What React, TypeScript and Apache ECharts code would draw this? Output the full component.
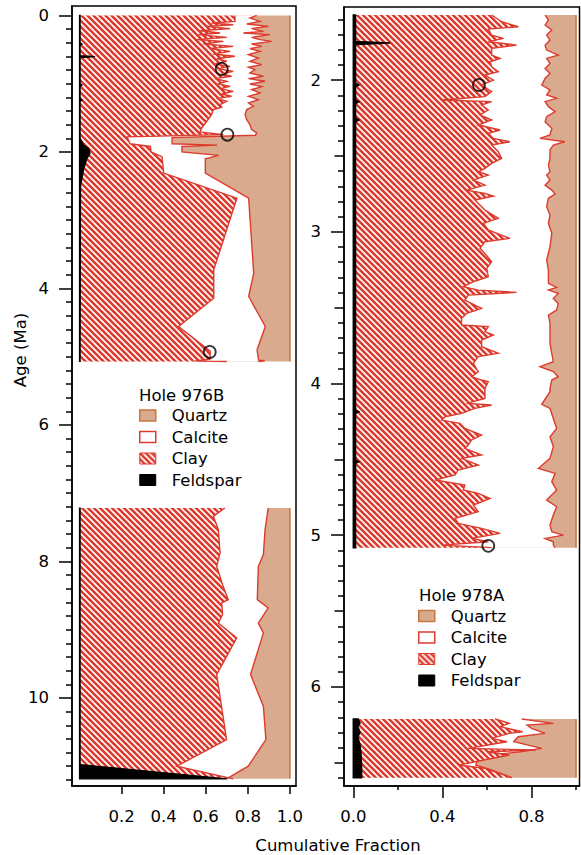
import React, { useEffect, useRef } from 'react';
import * as echarts from 'echarts';

const RED = '#dc3b2e';
const TAN = '#d9aa8d';
const BROWN = '#c6783c';
const FONT = 'DejaVu Sans';
const FS = 16.5;

// ---- Hole 976B : points are [age (Ma), cumulative fraction] ----
const feld976Upper = [
  [0, 0.003], [0.40, 0.003], [0.42, 0.012], [0.44, 0.003], [0.59, 0.003], [0.605, 0.074], [0.62, 0.003],
  [1.0, 0.003], [1.02, 0.012], [1.04, 0.003], [1.22, 0.003], [1.24, 0.012], [1.26, 0.003], [1.80, 0.003],
  [1.90, 0.02], [1.95, 0.045], [2.02, 0.05], [2.10, 0.035], [2.25, 0.02], [2.5, 0.005], [5.07, 0.003],
];
const clay976Upper = [
  [0, 0.739], [0.087, 0.739], [0.111, 0.628], [0.136, 0.731], [0.160, 0.605], [0.194, 0.716], [0.224, 0.573],
  [0.258, 0.668], [0.282, 0.565], [0.321, 0.700], [0.355, 0.557], [0.380, 0.684], [0.419, 0.589], [0.453, 0.731],
  [0.487, 0.620], [0.526, 0.716], [0.565, 0.636], [0.599, 0.739], [0.634, 0.652], [0.672, 0.700], [0.711, 0.644],
  [0.746, 0.716], [0.780, 0.660], [0.819, 0.731], [0.858, 0.676], [0.892, 0.723], [0.926, 0.644], [0.965, 0.700],
  [1.004, 0.660], [1.039, 0.716], [1.073, 0.668], [1.112, 0.731], [1.151, 0.676], [1.185, 0.723], [1.219, 0.652],
  [1.258, 0.700], [1.307, 0.668], [1.346, 0.676], [1.380, 0.636], [1.453, 0.628], [1.551, 0.605], [1.649, 0.581],
  [1.707, 0.573], [1.746, 0.684], [1.78, 0.226], [1.88, 0.24], [1.92, 0.337], [2.0, 0.34], [2.07, 0.392],
  [2.31, 0.40], [2.678, 0.748], [3.728, 0.638], [4.143, 0.638], [4.558, 0.471], [4.923, 0.622], [5.04, 0.62],
  [5.06, 0.55], [5.07, 0.70],
];
const calc976Upper = [
  [0, 0.842], [0.038, 0.810], [0.087, 0.858], [0.126, 0.795], [0.160, 0.898], [0.194, 0.818], [0.233, 0.874],
  [0.258, 0.779], [0.282, 0.905], [0.321, 0.818], [0.355, 0.858], [0.380, 0.913], [0.419, 0.818], [0.453, 0.866],
  [0.487, 0.810], [0.526, 0.858], [0.575, 0.803], [0.624, 0.850], [0.672, 0.810], [0.721, 0.866], [0.760, 0.803],
  [0.795, 0.834], [0.843, 0.810], [0.892, 0.874], [0.926, 0.803], [0.965, 0.882], [1.004, 0.810], [1.043, 0.866],
  [1.087, 0.818], [1.136, 0.858], [1.185, 0.803], [1.234, 0.850], [1.283, 0.803], [1.331, 0.826], [1.380, 0.795],
  [1.453, 0.787], [1.527, 0.795], [1.600, 0.810], [1.673, 0.818], [1.722, 0.842], [1.756, 0.836], [1.79, 0.44],
  [1.88, 0.44], [1.90, 0.654], [1.92, 0.487], [2.0, 0.487], [2.05, 0.661], [2.10, 0.598], [2.31, 0.598],
  [2.678, 0.804], [3.777, 0.828], [4.118, 0.804], [4.558, 0.883], [4.899, 0.844], [5.05, 0.851], [5.06, 0.88],
  [5.07, 0.85],
];
const qtz976Upper = [[0, 1], [5.07, 1]];

const feld976Lower = [[7.217, 0.003], [10.975, 0.003], [11.185, 0.70]];
const clay976Lower = [
  [7.217, 0.691], [7.339, 0.636], [7.534, 0.660], [7.876, 0.668], [8.071, 0.652], [8.34, 0.68], [8.56, 0.707],
  [8.608, 0.676], [8.779, 0.68], [8.901, 0.660], [9.12, 0.747], [9.657, 0.652], [10.61, 0.699], [11.0, 0.462],
  [11.185, 0.731],
];
const calc976Lower = [
  [7.217, 0.897], [7.534, 0.882], [7.9, 0.874], [8.071, 0.85], [8.56, 0.845], [8.682, 0.897], [8.901, 0.85],
  [9.047, 0.874], [9.657, 0.813], [10.121, 0.874], [10.61, 0.886], [11.0, 0.802], [11.185, 0.699],
];
const qtz976Lower = [[7.217, 1], [11.185, 1]];

// ---- Hole 978A ----
const feld978Upper = [
  [1.571, 0.01], [1.745, 0.01], [1.755, 0.165], [1.765, 0.01], [2.02, 0.01], [2.032, 0.025], [2.045, 0.01],
  [2.13, 0.01], [2.142, 0.025], [2.155, 0.01], [2.25, 0.01], [2.263, 0.025], [2.275, 0.01], [4.175, 0.01],
  [4.186, 0.025], [4.197, 0.01], [4.505, 0.01], [4.515, 0.025], [4.525, 0.01], [5.082, 0.01],
];
const clay978Upper = [
  [1.571, 0.621], [1.615, 0.666], [1.648, 0.741], [1.663, 0.606], [1.703, 0.621], [1.725, 0.674], [1.747, 0.606],
  [1.769, 0.733], [1.791, 0.621], [1.835, 0.621], [1.857, 0.659], [1.879, 0.614], [1.912, 0.621], [1.945, 0.651],
  [1.967, 0.591], [2.0, 0.629], [2.032, 0.576], [2.076, 0.621], [2.109, 0.591], [2.131, 0.397], [2.142, 0.621],
  [2.164, 0.576], [2.197, 0.606], [2.23, 0.569], [2.263, 0.621], [2.296, 0.561], [2.329, 0.659], [2.351, 0.606],
  [2.384, 0.629], [2.406, 0.703], [2.428, 0.621], [2.472, 0.651], [2.516, 0.666], [2.549, 0.621], [2.582, 0.591],
  [2.604, 0.561], [2.626, 0.606], [2.659, 0.539], [2.692, 0.591], [2.725, 0.509], [2.747, 0.591],
  [2.764, 0.629], [2.790, 0.546], [2.856, 0.591], [2.911, 0.651], [2.944, 0.584], [2.988, 0.606], [3.043, 0.703],
  [3.065, 0.591], [3.109, 0.569], [3.142, 0.591], [3.197, 0.621], [3.241, 0.599], [3.296, 0.606], [3.329, 0.539],
  [3.362, 0.494], [3.384, 0.561], [3.399, 0.733], [3.417, 0.516], [3.450, 0.501], [3.483, 0.546], [3.505, 0.576],
  [3.538, 0.509], [3.570, 0.486], [3.614, 0.486], [3.625, 0.606], [3.658, 0.591], [3.680, 0.629], [3.713, 0.576],
  [3.757, 0.576], [3.801, 0.651], [3.823, 0.561], [3.867, 0.539], [3.922, 0.561], [3.955, 0.531], [3.977, 0.576],
  [3.988, 0.606], [4.032, 0.591], [4.098, 0.591], [4.131, 0.509], [4.142, 0.621], [4.164, 0.546], [4.197, 0.486],
  [4.219, 0.412], [4.241, 0.397], [4.263, 0.479], [4.296, 0.501], [4.340, 0.576], [4.372, 0.531], [4.405, 0.516],
  [4.427, 0.501], [4.471, 0.576], [4.493, 0.486], [4.537, 0.561], [4.570, 0.471], [4.603, 0.457], [4.636, 0.367],
  [4.669, 0.501], [4.702, 0.494], [4.724, 0.561], [4.757, 0.614], [4.801, 0.539], [4.845, 0.561], [4.889, 0.457],
  [4.922, 0.471], [4.955, 0.576], [4.988, 0.659], [5.021, 0.531], [5.043, 0.606], [5.065, 0.397], [5.082, 0.621],
];
const calc978Upper = [
  [1.571, 0.861], [1.604, 0.876], [1.637, 0.861], [1.670, 0.891], [1.703, 0.868], [1.736, 0.883], [1.769, 0.861],
  [1.802, 0.868], [1.835, 0.920], [1.857, 0.868], [1.890, 0.883], [1.923, 0.861], [1.956, 0.883], [1.989, 0.861],
  [2.032, 0.846], [2.065, 0.883], [2.098, 0.868], [2.12, 0.913], [2.142, 0.861], [2.175, 0.876], [2.208, 0.906],
  [2.241, 0.868], [2.274, 0.861], [2.318, 0.891], [2.362, 0.883], [2.384, 0.838], [2.406, 0.950], [2.428, 0.898],
  [2.461, 0.883], [2.516, 0.883], [2.560, 0.876], [2.604, 0.883], [2.626, 0.868], [2.659, 0.883], [2.692, 0.861],
  [2.725, 0.891], [2.751, 0.906], [2.779, 0.876], [2.834, 0.868], [2.889, 0.883], [2.944, 0.876], [3.010, 0.891],
  [3.098, 0.883], [3.186, 0.868], [3.252, 0.876], [3.340, 0.876], [3.366, 0.913], [3.384, 0.876], [3.406, 0.920],
  [3.439, 0.898], [3.472, 0.920], [3.516, 0.913], [3.549, 0.876], [3.603, 0.883], [3.669, 0.883], [3.735, 0.883],
  [3.801, 0.891], [3.856, 0.898], [3.889, 0.838], [3.922, 0.898], [3.955, 0.920], [3.977, 0.891], [4.032, 0.883],
  [4.054, 0.883], [4.137, 0.846], [4.164, 0.883], [4.230, 0.898], [4.296, 0.913], [4.351, 0.883], [4.416, 0.898],
  [4.493, 0.883], [4.559, 0.831], [4.592, 0.906], [4.647, 0.891], [4.702, 0.913], [4.768, 0.868], [4.812, 0.913],
  [4.867, 0.898], [4.933, 0.883], [4.977, 0.891], [4.999, 0.943], [5.021, 0.861], [5.043, 0.898], [5.065, 0.898],
  [5.082, 0.906],
];
const qtz978Upper = [[1.571, 1], [5.082, 1]];

const feld978Lower = [
  [6.211, 0.022], [6.24, 0.03], [6.26, 0.02], [6.30, 0.03], [6.33, 0.02], [6.38, 0.03], [6.45, 0.035],
  [6.52, 0.037], [6.598, 0.037],
];
const clay978Lower = [
  [6.211, 0.636], [6.240, 0.70], [6.262, 0.66], [6.295, 0.76], [6.306, 0.70], [6.339, 0.62], [6.361, 0.69],
  [6.405, 0.517], [6.416, 0.82], [6.427, 0.60], [6.449, 0.70], [6.515, 0.472], [6.536, 0.59], [6.598, 0.711],
];
const calc978Lower = [
  [6.211, 0.756], [6.240, 0.898], [6.251, 0.78], [6.273, 0.80], [6.306, 0.861], [6.328, 0.74], [6.361, 0.72],
  [6.405, 0.846], [6.427, 0.75], [6.449, 0.62], [6.471, 0.56], [6.515, 0.55], [6.547, 0.62], [6.598, 0.711],
];
const qtz978Lower = [[6.211, 1], [6.598, 1]];

// open circles: [cumulative fraction, age]
const circles976 = [[0.676, 0.785], [0.703, 1.747], [0.619, 4.93]];
const circles978 = [[0.564, 2.032], [0.606, 5.07]];

// labels / ticks
const mineralNames = ['Quartz', 'Calcite', 'Clay', 'Feldspar'];
const holeTitles = ['Hole 976B', 'Hole 978A'];
const leftXTicks = [0.2, 0.4, 0.6, 0.8, 1.0];
const rightXMajor = [0, 0.4, 0.8];
const rightXMinor = [0.2, 0.6, 1.0];
const leftYMajor = [0, 2, 4, 6, 8, 10];
const rightYMajor = [2, 3, 4, 5, 6];
const rightYMedium = [2.5, 3.5, 4.5, 5.5, 6.5];
const xTitle = 'Cumulative Fraction';
const yTitle = 'Age (Ma)';

const leftYMinor: number[] = [];
for (let i = 1; i <= 56; i++) if (i % 10 !== 0) leftYMinor.push(Math.round(i * 2) / 10);
const rightYMinor: number[] = [];
for (let i = 16; i <= 66; i++) if (i % 5 !== 0) rightYMinor.push(i / 10);

function makeHatch(): HTMLCanvasElement {
  const n = 6;
  const c = document.createElement('canvas');
  c.width = n;
  c.height = n;
  const ctx = c.getContext('2d')!;
  ctx.fillStyle = '#ffffff';
  ctx.fillRect(0, 0, n, n);
  ctx.strokeStyle = RED;
  ctx.lineWidth = 2.6;
  ctx.beginPath();
  for (const k of [-n, 0, n]) {
    ctx.moveTo(k - 1, -1);
    ctx.lineTo(k + n + 1, n + 1);
  }
  ctx.stroke();
  return c;
}

function band(name: string, curve: number[][], axis: number, fill: any, stroke: string, lw: number, z: number, outlineAll = false) {
  return {
    type: 'custom',
    name,
    coordinateSystem: 'cartesian2d',
    xAxisIndex: axis,
    yAxisIndex: axis,
    z,
    silent: true,
    data: curve.map((p) => [p[1], p[0]]),
    encode: { x: 0, y: 1 },
    renderItem: (params: any, api: any) => {
      if (params.dataIndex !== 0) return null;
      const pts = curve.map((p) => api.coord([p[1], p[0]]));
      const first = api.coord([0, curve[0][0]]);
      const last = api.coord([0, curve[curve.length - 1][0]]);
      const children: any[] = [
        {
          type: 'polygon',
          shape: { points: [first, ...pts, last] },
          style: outlineAll ? { fill, stroke, lineWidth: lw } : { fill, stroke: null },
        },
      ];
      if (!outlineAll) {
        children.push({ type: 'polyline', shape: { points: pts }, style: { fill: null, stroke, lineWidth: lw } });
      }
      return { type: 'group', children };
    },
  };
}

export default function App() {
  const ref = useRef<HTMLDivElement>(null);
  useEffect(() => {
    if (!ref.current) return;
    const chart = echarts.init(ref.current, null, { renderer: 'svg' });
    const hatch = { image: makeHatch(), repeat: 'repeat', imageWidth: 6, imageHeight: 6 };

    const labelStyle = { color: '#000', fontFamily: FONT, fontSize: FS };
    const line = { color: '#000', width: 1.5 };

    const grids = [
      { left: 72, top: 6, width: 224, height: 780, show: true, borderColor: '#000', borderWidth: 1.5, backgroundColor: 'transparent' },
      { left: 344, top: 7, width: 235.5, height: 779, show: true, borderColor: '#000', borderWidth: 1.5, backgroundColor: 'transparent' },
      { left: 72, top: 6, width: 224, height: 780 },
      { left: 344, top: 7, width: 235.5, height: 779 },
      { left: 344, top: 7, width: 235.5, height: 779 },
    ];
    const LX = { min: -0.0356, max: 1.029 };
    const RX = { min: -0.0418, max: 1.0155 };
    const LY = { min: -0.138, max: 11.29 };
    const RY = { min: 1.518, max: 6.653 };

    const hiddenX = (g: number, r: any) => ({ type: 'value', gridIndex: g, ...r, show: false, splitLine: { show: false } });
    const xAxis = [
      {
        type: 'value', gridIndex: 0, ...LX,
        axisLine: { show: true, onZero: false, lineStyle: line },
        axisTick: { show: true, customValues: leftXTicks, length: 8, lineStyle: line },
        axisLabel: { show: true, customValues: leftXTicks, formatter: (v: number) => v.toFixed(1), margin: 22, ...labelStyle },
        splitLine: { show: false },
      },
      {
        type: 'value', gridIndex: 1, ...RX,
        axisLine: { show: true, onZero: false, lineStyle: line },
        axisTick: { show: true, customValues: rightXMajor, length: 12, lineStyle: line },
        axisLabel: { show: true, customValues: rightXMajor, formatter: (v: number) => v.toFixed(1), margin: 22, ...labelStyle },
        splitLine: { show: false },
      },
      hiddenX(2, LX),
      {
        type: 'value', gridIndex: 3, ...RX,
        axisLine: { show: false, onZero: false },
        axisTick: { show: true, customValues: rightXMinor, length: 4, lineStyle: line },
        axisLabel: { show: false },
        splitLine: { show: false },
      },
      hiddenX(4, RX),
    ];
    const yAx = (g: number, r: any, ticks: number[], len: number, labels: boolean, showLine: boolean) => ({
      type: 'value', gridIndex: g, inverse: true, ...r,
      axisLine: { show: showLine, onZero: false, lineStyle: line },
      axisTick: { show: true, customValues: ticks, length: len, lineStyle: line },
      axisLabel: labels
        ? { show: true, customValues: ticks, formatter: (v: number) => String(v), margin: 23, ...labelStyle }
        : { show: false },
      splitLine: { show: false },
    });
    const yAxis = [
      yAx(0, LY, leftYMajor, 13, true, true),
      yAx(1, RY, rightYMajor, 13, true, true),
      yAx(2, LY, leftYMinor, 6, false, false),
      yAx(3, RY, rightYMinor, 6, false, false),
      yAx(4, RY, rightYMedium, 9.5, false, false),
    ];

    const series: any[] = [];
    const panels = [
      { axis: 0, blocks: [[qtz976Upper, calc976Upper, clay976Upper, feld976Upper], [qtz976Lower, calc976Lower, clay976Lower, feld976Lower]], circles: circles976, flw: 1.2 },
      { axis: 1, blocks: [[qtz978Upper, calc978Upper, clay978Upper, feld978Upper], [qtz978Lower, calc978Lower, clay978Lower, feld978Lower]], circles: circles978, flw: 1.5 },
    ];
    for (const p of panels) {
      for (const b of p.blocks) {
        series.push(band('Quartz', b[0], p.axis, TAN, BROWN, 1.6, 1));
        series.push(band('Calcite', b[1], p.axis, '#ffffff', RED, 1.4, 2));
        series.push(band('Clay', b[2], p.axis, hatch, RED, 1.4, 3));
        series.push(band('Feldspar', b[3], p.axis, '#000000', '#000000', p.flw, 4, true));
      }
      series.push({
        type: 'scatter', name: 'Samples', xAxisIndex: p.axis, yAxisIndex: p.axis, z: 6, silent: true,
        symbol: 'circle', symbolSize: 12,
        itemStyle: { color: 'rgba(0,0,0,0)', borderColor: '#000', borderWidth: 1.8 },
        data: p.circles,
      });
    }

    const legendData = [
      { name: mineralNames[0], icon: 'rect', itemStyle: { color: TAN, borderColor: BROWN, borderWidth: 1.5 } },
      { name: mineralNames[1], icon: 'rect', itemStyle: { color: '#ffffff', borderColor: RED, borderWidth: 1.5 } },
      { name: mineralNames[2], icon: 'rect', itemStyle: { color: hatch, borderColor: RED, borderWidth: 1 } },
      { name: mineralNames[3], icon: 'rect', itemStyle: { color: '#000000', borderColor: '#000000', borderWidth: 1 } },
    ];
    const legendCommon = {
      orient: 'vertical', padding: 0, itemWidth: 16, itemHeight: 11, itemGap: 3.5, selectedMode: false,
      textStyle: { color: '#000', fontFamily: FONT, fontSize: FS, lineHeight: 18, padding: [0, 0, 0, 11] },
      data: legendData,
    };

    const option: any = {
      animation: false,
      backgroundColor: '#ffffff',
      textStyle: { fontFamily: FONT },
      title: [
        { text: holeTitles[0], left: 139, top: 386, padding: 0, textStyle: { color: '#000', fontFamily: FONT, fontSize: FS, fontWeight: 'normal', lineHeight: 18 } },
        { text: holeTitles[1], left: 419, top: 586, padding: 0, textStyle: { color: '#000', fontFamily: FONT, fontSize: FS, fontWeight: 'normal', lineHeight: 18 } },
      ],
      legend: [
        { ...legendCommon, left: 139, top: 406.5 },
        { ...legendCommon, left: 418, top: 607 },
      ],
      grid: grids,
      xAxis,
      yAxis,
      series,
      graphic: [
        {
          type: 'text', x: 338, y: 845,
          style: { text: xTitle, fill: '#000', font: `${FS}px "${FONT}"`, fontSize: FS, fontFamily: FONT, align: 'center', verticalAlign: 'middle', textAlign: 'center', textVerticalAlign: 'middle' },
        },
        {
          type: 'text', x: 20, y: 350, rotation: Math.PI / 2,
          style: { text: yTitle, fill: '#000', font: `${FS}px "${FONT}"`, fontSize: FS, fontFamily: FONT, align: 'center', verticalAlign: 'middle', textAlign: 'center', textVerticalAlign: 'middle' },
        },
      ],
    };
    chart.setOption(option);
    return () => chart.dispose();
  }, []);
  return <div ref={ref} style={{ position: 'absolute', left: 0, top: 0, width: 581, height: 855 }} />;
}
